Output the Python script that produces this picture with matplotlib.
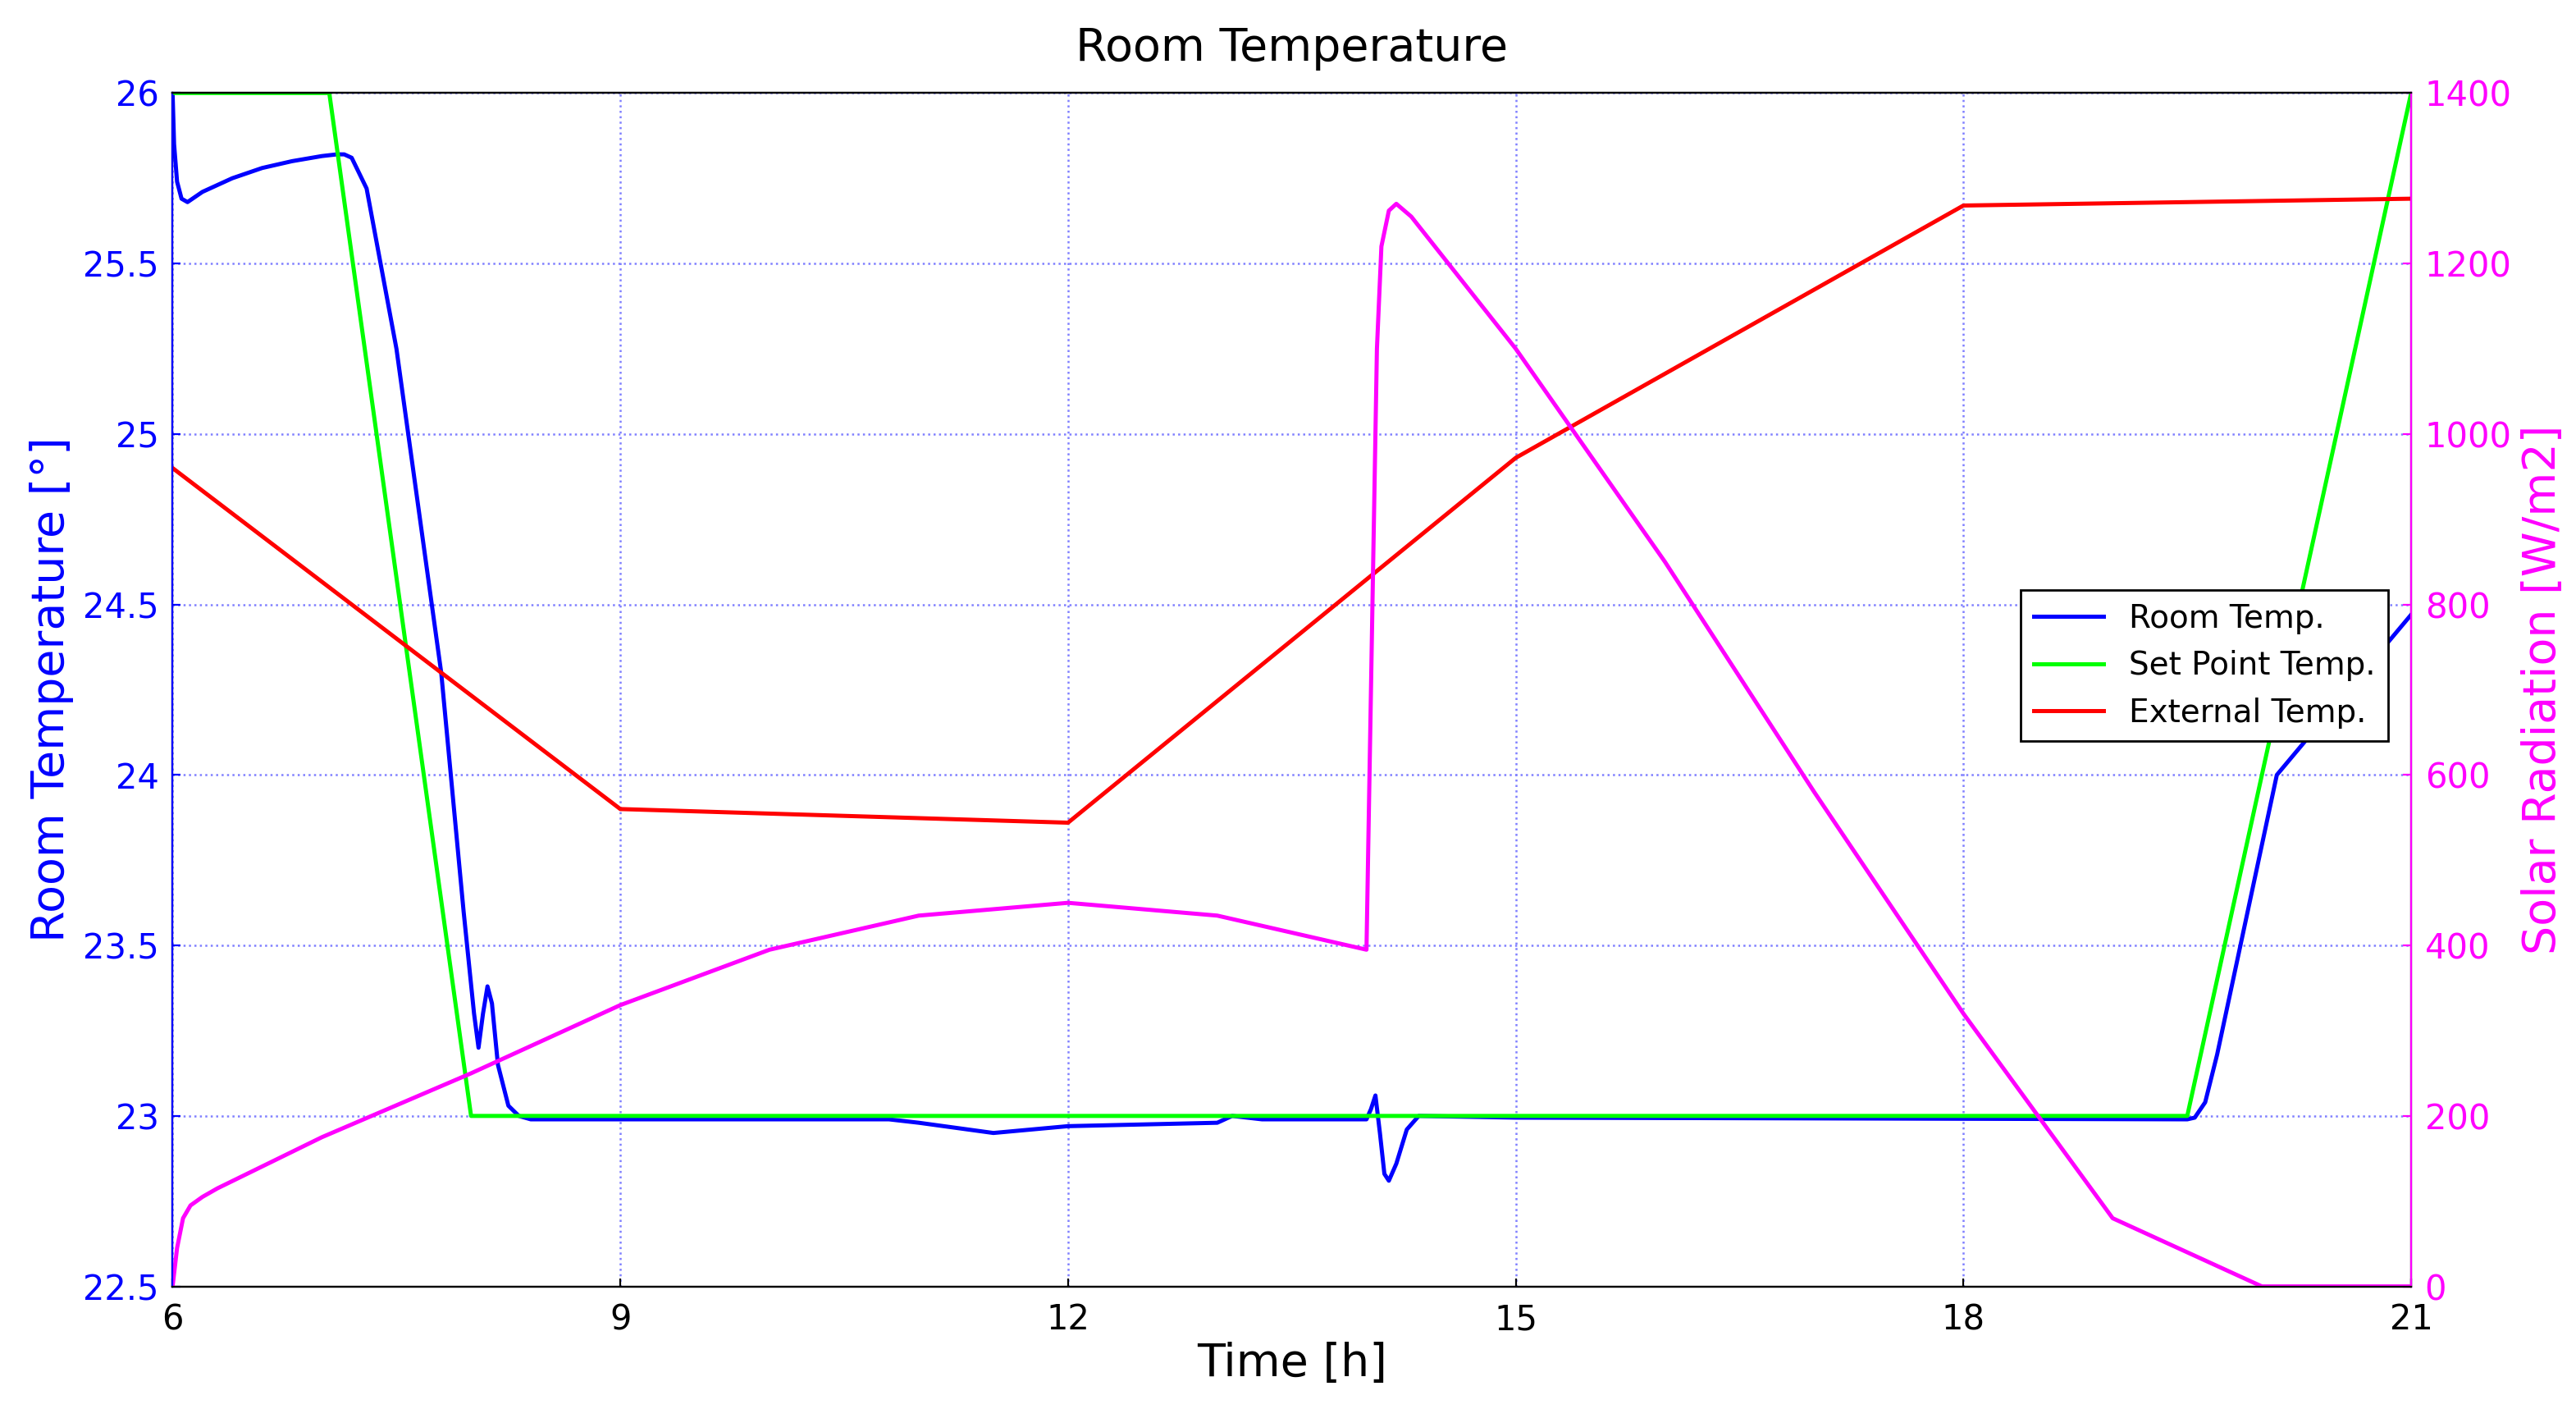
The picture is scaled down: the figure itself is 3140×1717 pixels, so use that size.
import matplotlib
matplotlib.use("Agg")
import matplotlib.pyplot as plt

room_t = [6.0, 6.01, 6.03, 6.06, 6.1, 6.2, 6.4, 6.6, 6.8, 7.0, 7.1, 7.15, 7.2, 7.3, 7.5, 7.8, 7.95, 8.02, 8.05, 8.08, 8.11, 8.14, 8.18, 8.25, 8.32, 8.4, 9.0, 10.8, 11.0, 11.5, 12.0, 13.0, 13.1, 13.3, 14.0, 14.03, 14.06, 14.09, 14.12, 14.15, 14.2, 14.27, 14.35, 15.0, 19.5, 19.55, 19.62, 19.7, 20.1, 21.0]
room_v = [26.0, 25.85, 25.74, 25.69, 25.68, 25.71, 25.75, 25.78, 25.80, 25.815, 25.82, 25.82, 25.81, 25.72, 25.25, 24.3, 23.6, 23.3, 23.2, 23.3, 23.38, 23.33, 23.15, 23.03, 23.0, 22.99, 22.99, 22.99, 22.98, 22.95, 22.97, 22.98, 23.0, 22.99, 22.99, 23.02, 23.06, 22.95, 22.83, 22.81, 22.86, 22.96, 23.0, 22.995, 22.99, 22.995, 23.04, 23.18, 24.0, 24.47]

set_t = [6.0, 7.05, 8.0, 19.5, 21.0]
set_v = [26.0, 26.0, 23.0, 23.0, 26.0]

ext_t = [6.0, 9.0, 12.0, 15.0, 18.0, 21.0]
ext_v = [24.9, 23.9, 23.86, 24.93, 25.67, 25.69]

sol_t = [6.0, 6.03, 6.07, 6.12, 6.2, 6.3, 7.0, 8.0, 9.0, 10.0, 11.0, 12.0, 13.0, 14.0, 14.04, 14.07, 14.1, 14.15, 14.2, 14.3, 15.0, 16.0, 17.0, 18.0, 19.0, 20.0, 21.0]
sol_v = [0, 45, 80, 95, 105, 115, 175, 250, 330, 395, 435, 450, 435, 395, 800, 1100, 1220, 1262, 1270, 1255, 1100, 850, 580, 320, 80, 0, 0]

fig = plt.figure(figsize=(15.7, 8.585), dpi=200)
ax = fig.add_axes([0.067, 0.087, 0.869, 0.847])
ax.plot(room_t, room_v, color="#0000ff", lw=1.8, label="Room Temp.")
ax.plot(set_t, set_v, color="#00ff00", lw=1.8, label="Set Point Temp.")
ax.plot(ext_t, ext_v, color="#ff0000", lw=1.8, label="External Temp.")
ax.set_xlim(6, 21)
ax.set_ylim(22.5, 26)
ax.set_xticks([6, 9, 12, 15, 18, 21])
ax.set_yticks([22.5, 23, 23.5, 24, 24.5, 25, 25.5, 26])
ax.set_yticklabels(["22.5", "23", "23.5", "24", "24.5", "25", "25.5", "26"])
ax.grid(True, ls=":", color="#8080ff", lw=0.9)
ax.tick_params(axis="y", colors="#0000ff", labelsize=15, direction="in", pad=6)
ax.tick_params(axis="x", labelsize=15, direction="in", pad=7)
ax.set_xlabel("Time [h]", fontsize=20, labelpad=2)
ax.set_ylabel("Room Temperature [°]", fontsize=20, color="#0000ff")
ax.set_title("Room Temperature", fontsize=20, pad=14)

ax2 = ax.twinx()
ax2.plot(sol_t, sol_v, color="#ff00ff", lw=1.8)
ax2.set_ylim(0, 1400)
ax2.set_yticks(range(0, 1401, 200))
ax2.tick_params(axis="y", colors="#ff00ff", labelsize=15, direction="in", pad=6)
ax2.set_ylabel("Solar Radiation [W/m2]", fontsize=20, color="#ff00ff")
ax2.spines["right"].set_color("#ff00ff")
ax2.spines["left"].set_color("#0000ff")

leg = ax.legend(loc="center right", bbox_to_anchor=(0.997, 0.52), fontsize=14,
                fancybox=False, framealpha=1, edgecolor="black", handlelength=2.2)
leg.set_zorder(10)
fig.savefig("out.png", dpi=200)
